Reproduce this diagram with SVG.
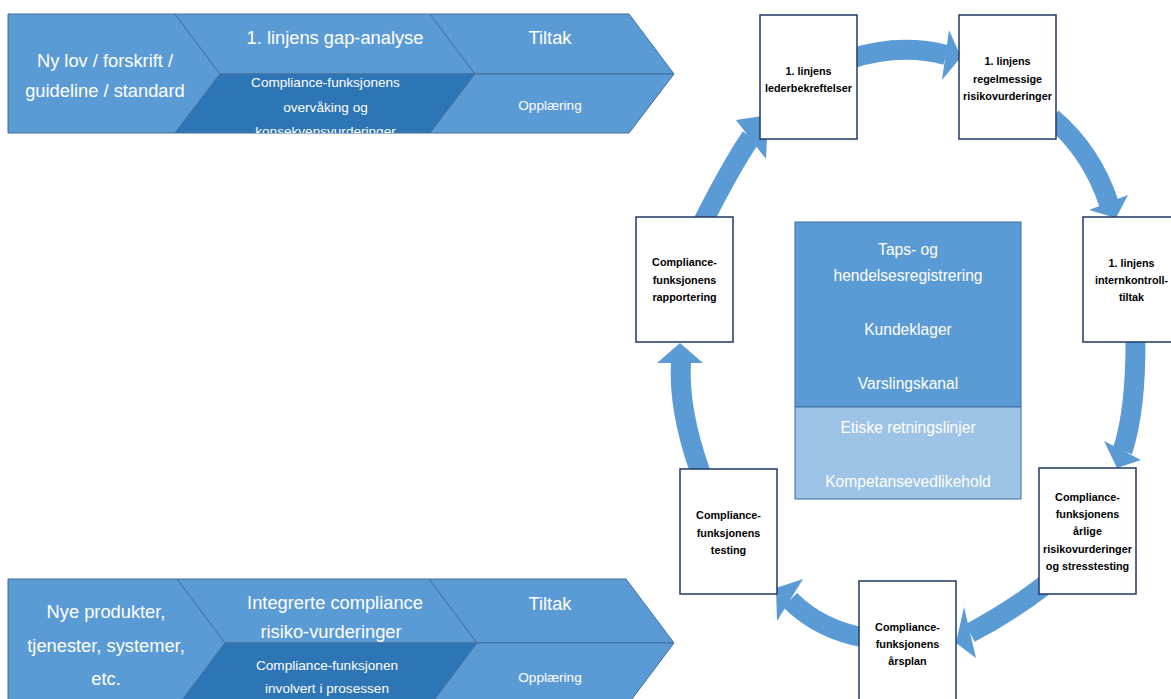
<svg xmlns="http://www.w3.org/2000/svg" width="1171" height="699" viewBox="0 0 1171 699">
<defs>
<style>
.cl{fill:#5b9bd5;stroke:#41719c;stroke-width:1}
.cd{fill:#2e75b6;stroke:#41719c;stroke-width:1}
.t{font-family:"Liberation Sans",Arial,sans-serif;fill:#fff;text-anchor:middle}
.big{font-size:18.3px}
.sm{font-size:13.6px}
.ctr{font-size:15.6px}
.box rect{fill:#fff;stroke:#203864;stroke-width:1.5}
.box text{font-family:"Liberation Sans",Arial,sans-serif;font-weight:bold;font-size:10.8px;fill:#000;text-anchor:middle}
.arr{fill:none;stroke:#5b9bd5;stroke-width:20}
.hd{fill:#5b9bd5}
</style>
<clipPath id="clipTop"><rect x="0" y="0" width="700" height="133"/></clipPath>
<clipPath id="clipMid"><rect x="0" y="560" width="700" height="83"/></clipPath>
</defs>
<rect width="1171" height="699" fill="#fff"/>

<g id="chevron-top">
<polygon class="cl" points="8,14 175,14 220,74 175,133 8,133"/>
<polygon class="cl" points="175,14 430,14 475,74 220,74"/>
<polygon class="cd" points="220,74 475,74 430,133 175,133"/>
<polygon class="cl" points="430,14 629,14 674,74 475,74"/>
<polygon class="cl" points="475,74 674,74 629,133 430,133"/>
<text class="t big" x="105" y="67">Ny lov / forskrift /</text>
<text class="t big" x="105" y="97">guideline / standard</text>
<text class="t big" x="335" y="44">1. linjens gap-analyse</text>
<text class="t big" x="550" y="44">Tiltak</text>
<g clip-path="url(#clipTop)">
<text class="t sm" x="325.5" y="87">Compliance-funksjonens</text>
<text class="t sm" x="325.5" y="111.5">overvåking og</text>
<text class="t sm" x="325.5" y="136">konsekvensvurderinger</text>
</g>
<text class="t sm" x="550" y="109.5">Opplæring</text>
</g>

<g id="chevron-bottom">
<polygon class="cl" points="8,579 177,579 225,643 177,707 8,707"/>
<polygon class="cl" points="177,579 429,579 477,643 225,643"/>
<polygon class="cd" points="225,643 477,643 429,707 177,707"/>
<polygon class="cl" points="429,579 626,579 674,643 477,643"/>
<polygon class="cl" points="477,643 674,643 626,707 429,707"/>
<text class="t big" x="106" y="618">Nye produkter,</text>
<text class="t big" x="106" y="652">tjenester, systemer,</text>
<text class="t big" x="106" y="685">etc.</text>
<text class="t big" x="335" y="609">Integrerte compliance</text>
<g clip-path="url(#clipMid)">
<text class="t big" x="331" y="638">risiko-vurderinger</text>
</g>
<text class="t sm" x="327" y="670">Compliance-funksjonen</text>
<text class="t sm" x="327" y="693">involvert i prosessen</text>
<text class="t big" x="550" y="610">Tiltak</text>
<text class="t sm" x="550" y="682">Opplæring</text>
</g>

<g id="center-box">
<rect x="795" y="222" width="226" height="185" fill="#5b9bd5" stroke="#41719c" stroke-width="1"/>
<rect x="795" y="407" width="226" height="92" fill="#9dc3e6" stroke="#41719c" stroke-width="1"/>
<text class="t ctr" x="908" y="255">Taps- og</text>
<text class="t ctr" x="908" y="281">hendelsesregistrering</text>
<text class="t ctr" x="908" y="335">Kundeklager</text>
<text class="t ctr" x="908" y="389">Varslingskanal</text>
<text class="t ctr" x="908" y="433">Etiske retningslinjer</text>
<text class="t ctr" x="908" y="487">Kompetansevedlikehold</text>
</g>

<g id="connectors">
<path class="arr" d="M850,59 Q900,43 946,55"/>
<polygon class="hd" points="949,30 961,57 942,80"/>
<path class="arr" d="M1052,118 Q1092,152 1109,204"/>
<polygon class="hd" points="1089,210 1128,195 1116,218"/>
<path class="arr" d="M1135.5,338 Q1136,410 1122.5,451"/>
<polygon class="hd" points="1104,441 1141,460 1117,468"/>
<path class="arr" d="M1045,585 Q1010,612 970,633"/>
<polygon class="hd" points="964,607 976,658 956,643"/>
<path class="arr" d="M866,638 Q820,630 790,600"/>
<polygon class="hd" points="803,579 777,621 776,588"/>
<path class="arr" d="M701,474 Q678,410 681,362"/>
<polygon class="hd" points="657,363 703,363 680,343"/>
<path class="arr" d="M701,226 Q730,168 751,137"/>
<polygon class="hd" points="736,120 766,159 768,115"/>
</g>

<g id="box-lederbekreftelser" class="box">
<rect x="760" y="15" width="97" height="124"/>
<text x="808.5" y="74.5">1. linjens</text>
<text x="808.5" y="91.5">lederbekreftelser</text>
</g>
<g id="box-regelmessige" class="box">
<rect x="959" y="15" width="97" height="124"/>
<text x="1007.5" y="65">1. linjens</text>
<text x="1007.5" y="82.5">regelmessige</text>
<text x="1007.5" y="100">risikovurderinger</text>
</g>
<g id="box-internkontroll" class="box">
<rect x="1083" y="217" width="97" height="125"/>
<text x="1131.5" y="266.5">1. linjens</text>
<text x="1131.5" y="283.5">internkontroll-</text>
<text x="1131.5" y="300.5">tiltak</text>
</g>
<g id="box-stresstesting" class="box">
<rect x="1039" y="468" width="97" height="126"/>
<text x="1087.5" y="500.5">Compliance-</text>
<text x="1087.5" y="518">funksjonens</text>
<text x="1087.5" y="535">årlige</text>
<text x="1087.5" y="552.5">risikovurderinger</text>
<text x="1087.5" y="570">og stresstesting</text>
</g>
<g id="box-arsplan" class="box">
<rect x="859" y="581" width="97" height="125"/>
<text x="907.5" y="631">Compliance-</text>
<text x="907.5" y="648">funksjonens</text>
<text x="907.5" y="665">årsplan</text>
</g>
<g id="box-testing" class="box">
<rect x="680" y="469" width="97" height="125"/>
<text x="728.5" y="519">Compliance-</text>
<text x="728.5" y="536.5">funksjonens</text>
<text x="728.5" y="553.5">testing</text>
</g>
<g id="box-rapportering" class="box">
<rect x="636" y="217" width="97" height="125"/>
<text x="684.5" y="266">Compliance-</text>
<text x="684.5" y="283.5">funksjonens</text>
<text x="684.5" y="301">rapportering</text>
</g>
</svg>
